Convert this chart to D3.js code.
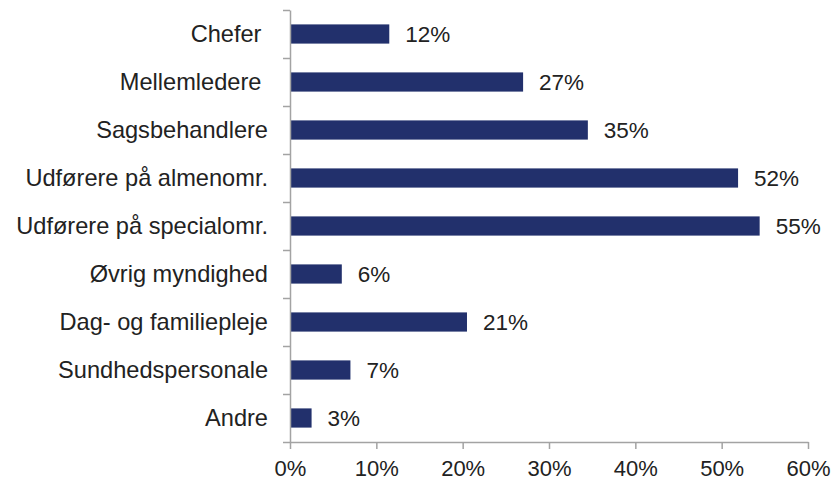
<!DOCTYPE html>
<html>
<head>
<meta charset="utf-8">
<script src="https://cdn.jsdelivr.net/npm/d3@7"></script>
<style>
  body { margin: 0; background: #fff; }
  text { font-family: "Liberation Sans", Arial, sans-serif; fill: #222; }
</style>
</head>
<body>
<svg id="chart"></svg>
<script>
// categories top to bottom (trailing spaces kept as in original)
const categories = ["Chefer ", "Mellemledere ", "Sagsbehandlere", "Udførere på almenomr.",
  "Udførere på specialomr.", "Øvrig myndighed", "Dag- og familiepleje", "Sundhedspersonale", "Andre"];
const values = [11.5, 27.0, 34.5, 51.9, 54.4, 6.0, 20.5, 7.0, 2.5];
const valueLabels = ["12%", "27%", "35%", "52%", "55%", "6%", "21%", "7%", "3%"];
const xTicks = [0, 10, 20, 30, 40, 50, 60];

const W = 840, H = 483;
const margin = { top: 10, right: 32, bottom: 41, left: 290 };

const svg = d3.select("#chart").attr("width", W).attr("height", H);

const x = d3.scaleLinear()
    .domain([0, 60])
    .range([margin.left, W - margin.right]);

const y = d3.scaleBand()
    .domain(categories)
    .range([margin.top, H - margin.bottom])
    .paddingInner(0.6)
    .paddingOuter(0.3);

// scale for the tick marks between categories
const yIdx = d3.scaleLinear()
    .domain([0, categories.length])
    .range([margin.top, H - margin.bottom]);

const axisColor = "#a3a3a3";

// bars
svg.append("g")
    .selectAll("rect")
    .data(values)
    .enter().append("rect")
    .attr("x", x(0) + 1)
    .attr("y", (d, i) => y(categories[i]))
    .attr("width", d => x(d) - x(0) - 1)
    .attr("height", y.bandwidth())
    .attr("fill", "#22306c");

// value labels
svg.append("g")
    .selectAll("text")
    .data(values)
    .enter().append("text")
    .attr("x", d => x(d) + 16)
    .attr("y", (d, i) => y(categories[i]) + y.bandwidth() / 2)
    .attr("dy", "0.36em")
    .style("font-size", "22.5px")
    .text((d, i) => valueLabels[i]);

// category labels
svg.append("g")
    .selectAll("text")
    .data(categories)
    .enter().append("text")
    .attr("x", margin.left - 22)
    .attr("y", d => y(d) + y.bandwidth() / 2)
    .attr("dy", "0.36em")
    .attr("text-anchor", "end")
    .style("font-size", "23.6px")
    .style("white-space", "pre")
    .text(d => d);

// y axis (ticks between categories)
const yAxisGroup = svg.append("g")
    .attr("transform", `translate(${x(0)},0)`)
    .call(d3.axisLeft(yIdx)
        .tickValues(d3.range(categories.length + 1))
        .tickFormat("")
        .tickSize(7)
        .tickSizeOuter(0));

// x axis
const xAxisGroup = svg.append("g")
    .attr("transform", `translate(0,${H - margin.bottom})`)
    .call(d3.axisBottom(x)
        .tickValues(xTicks)
        .tickFormat(d => d + "%")
        .tickSize(7)
        .tickSizeOuter(0));

xAxisGroup.selectAll("text")
    .attr("y", 18)
    .attr("dy", "0.71em")
    .style("font-size", "22px")
    .style("font-family", "'Liberation Sans', Arial, sans-serif")
    .attr("fill", "#222");

[xAxisGroup, yAxisGroup].forEach(g => {
    g.selectAll("path, line").attr("stroke", axisColor).attr("stroke-width", 1.5);
});
</script>
</body>
</html>
